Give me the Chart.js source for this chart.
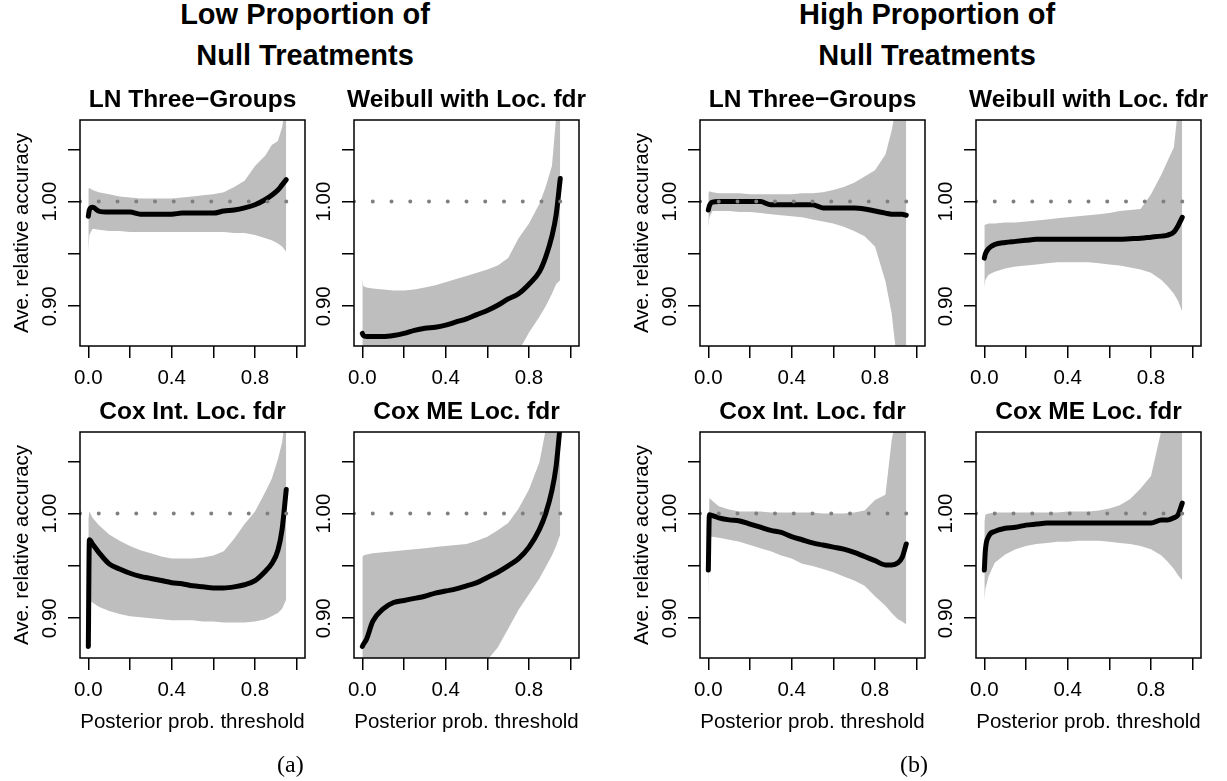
<!DOCTYPE html>
<html lang="en">
<head>
    <meta charset="UTF-8">
    <title>Ave. relative accuracy</title>
    <script src="https://cdn.jsdelivr.net/npm/chart.js"></script>
    <style>
        body {
            margin: 0;
            background: #fff;
            width: 1227px;
            height: 781px;
            position: relative;
            overflow: hidden;
            font-family: "Liberation Sans", Arial, sans-serif;
        }
        .panel { position: absolute; }
        .head {
            position: absolute;
            top: -6px;
            width: 600px;
            text-align: center;
            font-weight: bold;
            font-size: 29px;
            line-height: 41px;
        }
        .cap {
            position: absolute;
            top: 752px;
            font-family: "Liberation Serif", "DejaVu Serif", serif;
            font-size: 24px;
            line-height: 24px;
        }
    </style>
</head>
<body>
    <div class="head" style="left:5px">Low Proportion of<br>Null Treatments</div>
    <div class="head" style="left:627px">High Proportion of<br>Null Treatments</div>

    <canvas id="p1" class="panel" width="312" height="366" style="left:5px;top:75px"></canvas>
    <canvas id="p2" class="panel" width="312" height="366" style="left:279px;top:75px"></canvas>
    <canvas id="p3" class="panel" width="312" height="366" style="left:5px;top:387px"></canvas>
    <canvas id="p4" class="panel" width="312" height="366" style="left:279px;top:387px"></canvas>
    <canvas id="p5" class="panel" width="312" height="366" style="left:625px;top:75px"></canvas>
    <canvas id="p6" class="panel" width="312" height="366" style="left:901px;top:75px"></canvas>
    <canvas id="p7" class="panel" width="312" height="366" style="left:625px;top:387px"></canvas>
    <canvas id="p8" class="panel" width="312" height="366" style="left:901px;top:387px"></canvas>

    <div class="cap" style="left:277px">(a)</div>
    <div class="cap" style="left:900px">(b)</div>

    <script>
        // posterior prob. threshold (shared by every panel)
        const xs = [0, 0.005, 0.02, 0.05, 0.1, 0.15, 0.2, 0.25, 0.3, 0.35, 0.4, 0.45,
                    0.5, 0.55, 0.6, 0.65, 0.7, 0.75, 0.8, 0.85, 0.88, 0.91, 0.93, 0.95];

        const xTicks = [0, 0.2, 0.4, 0.6, 0.8, 1.0];
        const xTickLabels = ['0.0', '', '0.4', '', '0.8', ''];
        const yTicks = [0.90, 0.95, 1.00, 1.05];
        const yTickLabels = ['0.90', '', '1.00', ''];
        const refLine = 1.00;

        // Low proportion of null treatments
        const lnLowMean  = [0.986, 0.992, 0.9945, 0.991, 0.990, 0.990, 0.990, 0.988, 0.988, 0.988, 0.988, 0.989, 0.989, 0.989, 0.989, 0.991, 0.992, 0.994, 0.997, 1.002, 1.006, 1.011, 1.016, 1.021];
        const lnLowUpper = [1.012, 1.013, 1.011, 1.009, 1.007, 1.005, 1.004, 1.003, 1.003, 1.003, 1.003, 1.004, 1.005, 1.006, 1.007, 1.009, 1.014, 1.020, 1.034, 1.044, 1.054, 1.058, 1.071, 1.095];
        const lnLowLower = [0.952, 0.968, 0.974, 0.973, 0.972, 0.972, 0.971, 0.971, 0.971, 0.971, 0.971, 0.971, 0.971, 0.971, 0.971, 0.971, 0.970, 0.970, 0.968, 0.965, 0.963, 0.960, 0.957, 0.952];

        const wbLowMean  = [0.874, 0.872, 0.871, 0.871, 0.871, 0.872, 0.874, 0.877, 0.879, 0.880, 0.882, 0.885, 0.888, 0.892, 0.896, 0.901, 0.907, 0.912, 0.921, 0.933, 0.947, 0.967, 0.987, 1.022];
        const wbLowUpper = [0.926, 0.919, 0.918, 0.917, 0.916, 0.915, 0.915, 0.916, 0.918, 0.920, 0.923, 0.926, 0.929, 0.932, 0.935, 0.939, 0.946, 0.965, 0.979, 0.998, 1.014, 1.034, 1.080, 1.120];
        const wbLowLower = [0.800, 0.800, 0.800, 0.800, 0.800, 0.805, 0.810, 0.815, 0.820, 0.825, 0.830, 0.835, 0.840, 0.843, 0.846, 0.849, 0.852, 0.857, 0.875, 0.890, 0.900, 0.912, 0.921, 0.925];

        const ciLowMean  = [0.873, 0.975, 0.971, 0.963, 0.952, 0.947, 0.943, 0.940, 0.938, 0.936, 0.934, 0.933, 0.931, 0.930, 0.929, 0.929, 0.930, 0.932, 0.936, 0.945, 0.952, 0.965, 0.985, 1.023];
        const ciLowUpper = [0.995, 1.002, 0.996, 0.989, 0.980, 0.974, 0.969, 0.965, 0.962, 0.959, 0.957, 0.957, 0.957, 0.958, 0.960, 0.964, 0.976, 0.990, 1.002, 1.021, 1.033, 1.052, 1.068, 1.100];
        const ciLowLower = [0.866, 0.917, 0.915, 0.911, 0.907, 0.904, 0.902, 0.901, 0.900, 0.899, 0.898, 0.898, 0.898, 0.897, 0.897, 0.896, 0.896, 0.896, 0.897, 0.899, 0.902, 0.905, 0.909, 0.918];

        const cmLowMean  = [0.873, 0.875, 0.880, 0.897, 0.909, 0.915, 0.917, 0.919, 0.921, 0.924, 0.926, 0.928, 0.931, 0.934, 0.939, 0.944, 0.950, 0.957, 0.968, 0.985, 1.000, 1.022, 1.045, 1.085];
        const cmLowUpper = [0.958, 0.960, 0.961, 0.962, 0.963, 0.964, 0.965, 0.966, 0.967, 0.968, 0.969, 0.970, 0.971, 0.974, 0.978, 0.984, 0.991, 1.005, 1.023, 1.049, 1.080, 1.120, 1.150, 1.200];
        const cmLowLower = [0.800, 0.800, 0.800, 0.800, 0.800, 0.800, 0.805, 0.810, 0.815, 0.820, 0.825, 0.830, 0.838, 0.848, 0.860, 0.872, 0.890, 0.908, 0.923, 0.938, 0.949, 0.960, 0.969, 0.980];

        // High proportion of null treatments
        const lnHighMean  = [0.992, 0.996, 0.9995, 1.000, 1.000, 1.000, 1.000, 1.000, 0.997, 0.997, 0.997, 0.997, 0.997, 0.994, 0.994, 0.994, 0.994, 0.993, 0.991, 0.989, 0.988, 0.988, 0.988, 0.987];
        const lnHighUpper = [1.008, 1.010, 1.009, 1.008, 1.008, 1.008, 1.007, 1.007, 1.007, 1.007, 1.007, 1.008, 1.008, 1.009, 1.011, 1.014, 1.018, 1.024, 1.030, 1.045, 1.068, 1.100, 1.120, 1.150];
        const lnHighLower = [0.975, 0.985, 0.991, 0.991, 0.991, 0.990, 0.990, 0.989, 0.988, 0.987, 0.986, 0.985, 0.983, 0.981, 0.979, 0.976, 0.972, 0.967, 0.957, 0.924, 0.893, 0.840, 0.820, 0.800];

        const wbHighMean  = [0.946, 0.950, 0.955, 0.959, 0.961, 0.962, 0.963, 0.964, 0.964, 0.964, 0.964, 0.964, 0.964, 0.964, 0.964, 0.964, 0.9645, 0.965, 0.966, 0.967, 0.968, 0.971, 0.977, 0.985];
        const wbHighUpper = [0.978, 0.978, 0.979, 0.979, 0.980, 0.980, 0.981, 0.982, 0.983, 0.984, 0.985, 0.986, 0.987, 0.988, 0.989, 0.991, 0.992, 0.993, 1.007, 1.026, 1.039, 1.052, 1.090, 1.120];
        const wbHighLower = [0.918, 0.925, 0.930, 0.933, 0.936, 0.938, 0.939, 0.940, 0.941, 0.942, 0.942, 0.942, 0.942, 0.941, 0.940, 0.939, 0.937, 0.935, 0.932, 0.925, 0.919, 0.912, 0.905, 0.895];

        const ciHighMean  = [0.946, 0.999, 0.998, 0.996, 0.994, 0.993, 0.990, 0.987, 0.984, 0.982, 0.978, 0.975, 0.972, 0.970, 0.968, 0.966, 0.963, 0.959, 0.955, 0.951, 0.951, 0.953, 0.958, 0.971];
        const ciHighUpper = [0.960, 1.015, 1.012, 1.007, 1.004, 1.002, 1.002, 1.002, 1.001, 1.001, 1.001, 1.001, 1.001, 1.000, 1.000, 1.000, 1.001, 1.003, 1.013, 1.018, 1.070, 1.100, 1.120, 1.150];
        const ciHighLower = [0.917, 0.978, 0.978, 0.977, 0.975, 0.973, 0.970, 0.967, 0.964, 0.960, 0.957, 0.952, 0.950, 0.947, 0.944, 0.940, 0.936, 0.931, 0.921, 0.912, 0.905, 0.899, 0.897, 0.894];

        const cmHighMean  = [0.946, 0.965, 0.978, 0.983, 0.986, 0.987, 0.989, 0.990, 0.991, 0.991, 0.991, 0.991, 0.991, 0.991, 0.991, 0.991, 0.991, 0.991, 0.991, 0.994, 0.994, 0.996, 0.999, 1.010];
        const cmHighUpper = [0.992, 0.999, 1.000, 1.001, 1.001, 1.001, 1.001, 1.001, 1.001, 1.001, 1.002, 1.002, 1.002, 1.003, 1.005, 1.008, 1.014, 1.024, 1.036, 1.080, 1.100, 1.120, 1.140, 1.160];
        const cmHighLower = [0.917, 0.928, 0.940, 0.953, 0.961, 0.966, 0.969, 0.971, 0.972, 0.973, 0.973, 0.974, 0.974, 0.974, 0.973, 0.972, 0.971, 0.969, 0.966, 0.960, 0.954, 0.947, 0.941, 0.936];

        const FONT = '"Liberation Sans", Arial, sans-serif';
        Chart.defaults.font.family = FONT;
        Chart.defaults.color = '#000';

        // box, titles and rotated y labels (R style)
        const decor = {
            id: 'decor',
            afterDraw(chart, args, o) {
                const ctx = chart.ctx;
                const a = chart.chartArea;
                const ys = chart.scales.y;
                ctx.save();
                ctx.strokeStyle = '#000';
                ctx.lineWidth = 1.5;
                ctx.strokeRect(a.left, a.top, a.right - a.left, a.bottom - a.top);

                ctx.fillStyle = '#000';
                ctx.textAlign = 'center';
                ctx.textBaseline = 'alphabetic';
                ctx.font = 'bold 24.5px ' + FONT;
                ctx.fillText(o.title, (a.left + a.right) / 2, a.top - 13);

                ctx.font = '20.5px ' + FONT;
                ctx.textBaseline = 'middle';
                yTicks.forEach((v, i) => {
                    if (!yTickLabels[i]) return;
                    ctx.save();
                    ctx.translate(a.left - 30, ys.getPixelForValue(v));
                    ctx.rotate(-Math.PI / 2);
                    ctx.fillText(yTickLabels[i], 0, 0);
                    ctx.restore();
                });

                if (o.yTitle) {
                    ctx.save();
                    ctx.translate(a.left - 58, (a.top + a.bottom) / 2);
                    ctx.rotate(-Math.PI / 2);
                    ctx.fillText('Ave. relative accuracy', 0, 0);
                    ctx.restore();
                }
                if (o.xTitle) {
                    ctx.textBaseline = 'alphabetic';
                    ctx.fillText('Posterior prob. threshold', (a.left + a.right) / 2, a.bottom + 70);
                }
                ctx.restore();
            }
        };

        function pts(arr) {
            return xs.map((x, i) => ({ x: x, y: arr[i] }));
        }

        function panel(id, title, mean, lower, upper, yTitle, xTitle) {
            new Chart(document.getElementById(id), {
                type: 'line',
                data: {
                    datasets: [
                        { data: pts(upper), fill: '+1', backgroundColor: '#bebebe', borderWidth: 0, pointRadius: 0, clip: 0, order: 3 },
                        { data: pts(lower), fill: false, borderWidth: 0, pointRadius: 0, clip: 0, order: 3 },
                        { data: pts(mean), borderColor: '#000', borderWidth: 5, pointRadius: 0, clip: 0, order: 2,
                          cubicInterpolationMode: 'monotone', borderJoinStyle: 'round', borderCapStyle: 'round' },
                        { data: [{ x: -0.04, y: refLine }, { x: 1.04, y: refLine }], borderColor: '#7f7f7f', borderWidth: 4,
                          borderDash: [0, 18.75], borderCapStyle: 'round', pointRadius: 0, clip: 0, order: 1 }
                    ]
                },
                options: {
                    responsive: false,
                    animation: false,
                    events: [],
                    layout: { padding: { top: 45, right: 12, left: 0, bottom: 0 } },
                    plugins: {
                        legend: { display: false },
                        tooltip: { enabled: false },
                        decor: { title: title, yTitle: yTitle, xTitle: xTitle }
                    },
                    scales: {
                        x: {
                            type: 'linear',
                            min: -0.04,
                            max: 1.04,
                            afterBuildTicks: s => { s.ticks = xTicks.map(v => ({ value: v })); },
                            afterFit: s => { s.height = 95; },
                            border: { display: false },
                            grid: { drawOnChartArea: false, drawTicks: true, tickLength: 12, color: '#000', lineWidth: 1.5 },
                            ticks: {
                                autoSkip: false, maxRotation: 0, minRotation: 0, padding: 8.5,
                                font: { size: 20.5 },
                                callback: (v, i) => xTickLabels[i]
                            }
                        },
                        y: {
                            type: 'linear',
                            min: 0.862,
                            max: 1.078,
                            afterBuildTicks: s => { s.ticks = yTicks.map(v => ({ value: v })); },
                            afterFit: s => { s.width = 75; },
                            border: { display: false },
                            grid: { drawOnChartArea: false, drawTicks: true, tickLength: 12, color: '#000', lineWidth: 1.5 },
                            ticks: { callback: () => '' }
                        }
                    }
                },
                plugins: [decor]
            });
        }

        panel('p1', 'LN Three\u2212Groups', lnLowMean, lnLowLower, lnLowUpper, true, false);
        panel('p2', 'Weibull with Loc. fdr', wbLowMean, wbLowLower, wbLowUpper, false, false);
        panel('p3', 'Cox Int. Loc. fdr', ciLowMean, ciLowLower, ciLowUpper, true, true);
        panel('p4', 'Cox ME Loc. fdr', cmLowMean, cmLowLower, cmLowUpper, false, true);
        panel('p5', 'LN Three\u2212Groups', lnHighMean, lnHighLower, lnHighUpper, true, false);
        panel('p6', 'Weibull with Loc. fdr', wbHighMean, wbHighLower, wbHighUpper, false, false);
        panel('p7', 'Cox Int. Loc. fdr', ciHighMean, ciHighLower, ciHighUpper, true, true);
        panel('p8', 'Cox ME Loc. fdr', cmHighMean, cmHighLower, cmHighUpper, false, true);
    </script>
</body>
</html>
